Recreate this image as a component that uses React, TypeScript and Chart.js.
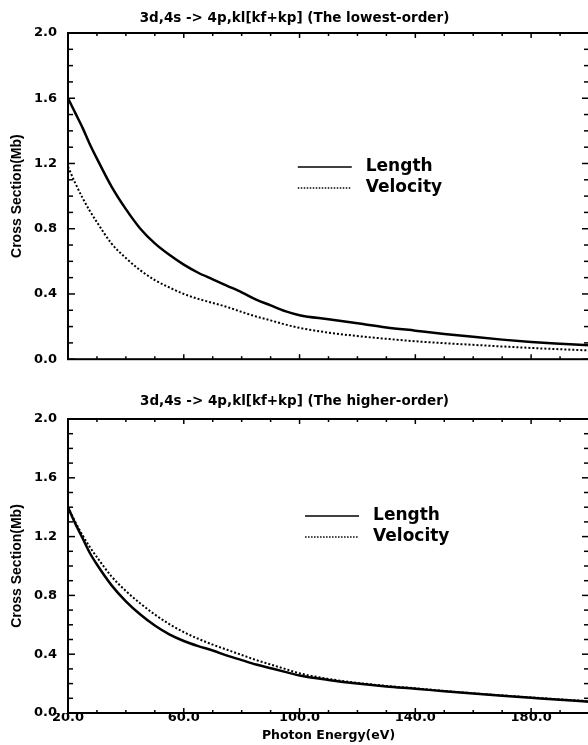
import React, { useEffect, useRef } from 'react';
import { Chart, registerables } from 'chart.js';

Chart.register(...registerables);

// ---------- data ----------
const energy = [20, 22.5, 25, 27.5, 30, 35, 40, 45, 50, 55, 60, 65, 70, 75, 80, 85, 90, 95, 100, 110, 120, 130, 140, 150, 160, 170, 180, 190, 200];

const lowestLength = [1.6, 1.51, 1.42, 1.32, 1.23, 1.06, 0.92, 0.8, 0.71, 0.64, 0.58, 0.53, 0.49, 0.45, 0.41, 0.365, 0.33, 0.295, 0.27, 0.245, 0.22, 0.195, 0.175, 0.155, 0.137, 0.12, 0.106, 0.095, 0.085];
const lowestVelocity = [1.18, 1.08, 0.99, 0.91, 0.84, 0.71, 0.62, 0.545, 0.485, 0.44, 0.4, 0.37, 0.345, 0.32, 0.29, 0.262, 0.238, 0.213, 0.192, 0.163, 0.142, 0.125, 0.11, 0.098, 0.088, 0.078, 0.069, 0.061, 0.054];

const higherLength = [1.4, 1.29, 1.19, 1.09, 1.01, 0.87, 0.76, 0.67, 0.595, 0.535, 0.49, 0.455, 0.425, 0.39, 0.36, 0.33, 0.305, 0.28, 0.255, 0.225, 0.2, 0.18, 0.165, 0.148, 0.132, 0.118, 0.104, 0.09, 0.077];
const higherVelocity = [1.4, 1.3, 1.21, 1.13, 1.06, 0.93, 0.83, 0.745, 0.67, 0.605, 0.55, 0.505, 0.465, 0.43, 0.395, 0.36, 0.33, 0.3, 0.27, 0.232, 0.205, 0.184, 0.168, 0.15, 0.134, 0.12, 0.106, 0.093, 0.08];

const xTickLabels = [20, 60, 100, 140, 180];
const yTickLabels = [0, 0.4, 0.8, 1.2, 1.6, 2.0];
const seriesNames = ['Length', 'Velocity'];
const titles = [
  '3d,4s -> 4p,kl[kf+kp] (The lowest-order)',
  '3d,4s -> 4p,kl[kf+kp] (The higher-order)',
];
const xTitle = 'Photon Energy(eV)';
const yTitle = 'Cross Section(Mb)';

// ---------- plugins ----------
const framePlugin = {
  id: 'frameTicks',
  afterDatasetsDraw(chart: any) {
    const { ctx, chartArea: a, scales } = chart;
    const x = scales.x;
    const y = scales.y;
    ctx.save();
    ctx.strokeStyle = '#000';
    ctx.lineWidth = 1.5;
    const seg = (x1: number, y1: number, x2: number, y2: number) => {
      ctx.beginPath();
      ctx.moveTo(x1, y1);
      ctx.lineTo(x2, y2);
      ctx.stroke();
    };
    for (let v = 20; v <= 200; v += 10) {
      const px = x.getPixelForValue(v);
      const len = (v - 20) % 40 === 0 ? 5 : 3;
      seg(px, a.bottom, px, a.bottom - len);
      seg(px, a.top, px, a.top + len);
    }
    for (let i = 0; i <= 20; i++) {
      const py = y.getPixelForValue(i / 10);
      const len = i % 4 === 0 ? 7 : 5;
      seg(a.left, py, a.left + len, py);
      seg(a.right, py, a.right - len, py);
    }
    ctx.lineWidth = 2;
    ctx.strokeRect(a.left, a.top, a.right - a.left, a.bottom - a.top);
    ctx.restore();
  },
};

const legendPlugin = {
  id: 'inlineLegend',
  afterDatasetsDraw(chart: any, _args: any, opts: any) {
    const { ctx, chartArea: a } = chart;
    const x0 = a.left + opts.fx * (a.right - a.left);
    let yy = a.top + opts.fy * (a.bottom - a.top);
    chart.data.datasets.forEach((ds: any) => {
      ctx.save();
      ctx.strokeStyle = '#000';
      ctx.lineWidth = 1.5;
      ctx.setLineDash(ds.borderDash ? [1.5, 1.5] : []);
      ctx.beginPath();
      ctx.moveTo(x0, yy);
      ctx.lineTo(x0 + 54, yy);
      ctx.stroke();
      ctx.setLineDash([]);
      ctx.fillStyle = '#000';
      ctx.font = 'bold 17px "DejaVu Sans"';
      ctx.textBaseline = 'middle';
      ctx.textAlign = 'left';
      ctx.fillText(ds.label, x0 + 68, yy);
      ctx.restore();
      yy += 21;
    });
  },
};

function makeConfig(
  title: string,
  lenVals: number[],
  velVals: number[],
  showX: boolean,
  titlePad: { top: number; bottom: number },
  xAxisHeight: number,
  legendPos: { fx: number; fy: number }
): any {
  return {
    type: 'line',
    data: {
      datasets: [
        {
          label: seriesNames[0],
          data: energy.map((e, i) => ({ x: e, y: lenVals[i] })),
          borderColor: '#000',
          borderWidth: 2.5,
          pointRadius: 0,
          cubicInterpolationMode: 'monotone',
          fill: false,
        },
        {
          label: seriesNames[1],
          data: energy.map((e, i) => ({ x: e, y: velVals[i] })),
          borderColor: '#000',
          borderWidth: 2,
          borderDash: [2, 2],
          pointRadius: 0,
          cubicInterpolationMode: 'monotone',
          fill: false,
        },
      ],
    },
    options: {
      responsive: false,
      animation: false,
      devicePixelRatio: 1,
      events: [],
      layout: { padding: { left: 0, right: 1, top: 0, bottom: 0 } },
      plugins: {
        legend: { display: false },
        tooltip: { enabled: false },
        title: {
          display: true,
          text: title,
          color: '#000',
          font: { family: '"DejaVu Sans"', weight: 'bold', size: 13.5, lineHeight: 1.2 },
          padding: titlePad,
        },
        inlineLegend: legendPos,
      },
      scales: {
        x: {
          type: 'linear',
          min: 20,
          max: 200,
          grid: { display: false, drawTicks: false },
          border: { display: false },
          afterBuildTicks: (s: any) => {
            s.ticks = xTickLabels.map((v) => ({ value: v }));
          },
          afterFit: (s: any) => {
            s.height = xAxisHeight;
          },
          ticks: {
            display: showX,
            autoSkip: false,
            maxRotation: 0,
            padding: -3,
            color: '#000',
            font: { family: '"DejaVu Sans"', weight: 'bold', size: 13, lineHeight: 1.2 },
            callback: (v: any) => Number(v).toFixed(1),
          },
          title: {
            display: showX,
            text: xTitle,
            color: '#000',
            font: { family: '"DejaVu Sans"', weight: 'bold', size: 12.5, lineHeight: 1.2 },
            padding: { top: 0, bottom: 1.5 },
          },
        },
        y: {
          type: 'linear',
          min: 0,
          max: 2,
          grid: { display: false, drawTicks: false },
          border: { display: false },
          afterBuildTicks: (s: any) => {
            s.ticks = yTickLabels.map((v) => ({ value: v }));
          },
          afterFit: (s: any) => {
            s.width = 68;
          },
          ticks: {
            padding: 11,
            color: '#000',
            font: { family: '"DejaVu Sans"', weight: 'bold', size: 13, lineHeight: 1.2 },
            callback: (v: any) => Number(v).toFixed(1),
          },
          title: {
            display: true,
            text: yTitle,
            color: '#000',
            font: { family: '"Liberation Sans"', weight: 'bold', size: 14, lineHeight: 1.2 },
            padding: { top: 8.6, bottom: 0 },
          },
        },
      },
    },
    plugins: [framePlugin, legendPlugin],
  };
}

export default function App() {
  const topRef = useRef<HTMLCanvasElement>(null);
  const botRef = useRef<HTMLCanvasElement>(null);

  useEffect(() => {
    const c1 = new Chart(
      topRef.current as HTMLCanvasElement,
      makeConfig(titles[0], lowestLength, lowestVelocity, false, { top: 10, bottom: 6.8 }, 14, { fx: 0.441, fy: 0.411 })
    );
    const c2 = new Chart(
      botRef.current as HTMLCanvasElement,
      makeConfig(titles[1], higherLength, higherVelocity, true, { top: 15, bottom: 9.8 }, 32, { fx: 0.455, fy: 0.33 })
    );
    return () => {
      c1.destroy();
      c2.destroy();
    };
  }, []);

  return (
    <div
      style={{
        position: 'absolute',
        left: 0,
        top: 0,
        width: 588,
        height: 745,
        overflow: 'hidden',
        background: '#fff',
      }}
    >
      <canvas
        ref={topRef}
        width={590}
        height={378}
        style={{ position: 'absolute', left: 0, top: 0, width: 590, height: 378, display: 'block' }}
      />
      <canvas
        ref={botRef}
        width={590}
        height={367}
        style={{ position: 'absolute', left: 0, top: 378, width: 590, height: 367, display: 'block' }}
      />
    </div>
  );
}
